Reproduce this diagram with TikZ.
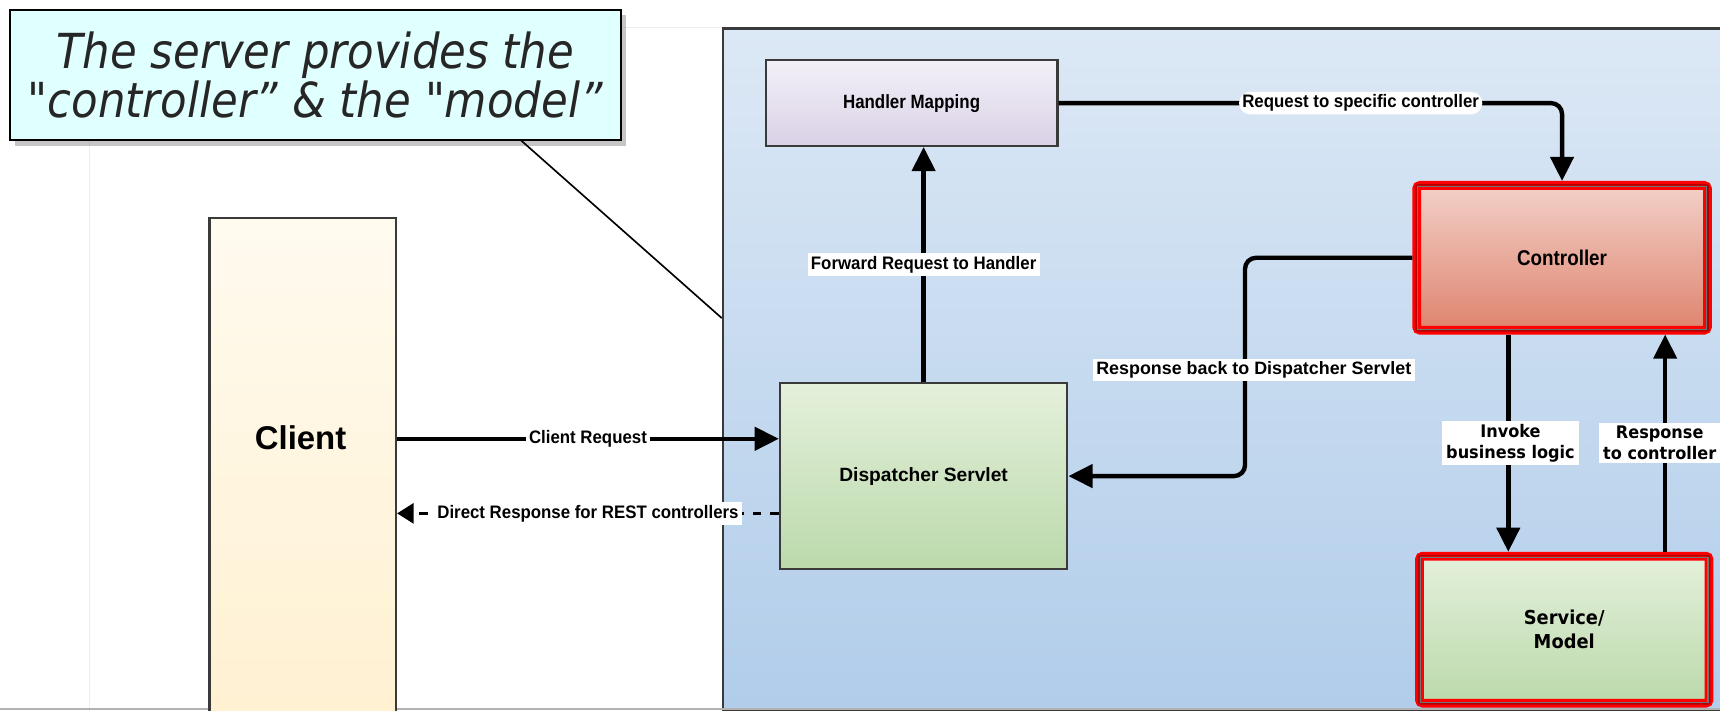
\documentclass[tikz,border=0pt]{standalone}
\usepackage{fontspec}
\setmainfont{Liberation Sans}
\newfontfamily\narrowfont[FakeStretch=0.93]{Liberation Sans}
\newfontfamily\narrowerfont[FakeStretch=0.88]{Liberation Sans}
\newfontfamily\verdfont[FakeStretch=0.93]{DejaVu Sans}
\newfontfamily\callfont[FakeStretch=0.90]{DejaVu Sans}
\usetikzlibrary{arrows.meta,shadows}
\definecolor{srvtop}{HTML}{DCE8F5}
\definecolor{srvbot}{HTML}{B1CDEA}
\definecolor{boxline}{HTML}{3A3A3A}
\definecolor{callfill}{HTML}{E0FFFF}
\definecolor{framered}{HTML}{FF0000}
\definecolor{framedark}{HTML}{B00000}
\definecolor{grtop}{HTML}{E4F0DB}
\definecolor{grbot}{HTML}{BBD9AB}
\definecolor{hmtop}{HTML}{F3F0F7}
\definecolor{hmbot}{HTML}{D9D1E6}
\definecolor{cttop}{HTML}{F3D0C8}
\definecolor{ctbot}{HTML}{DE846E}
\definecolor{cltop}{HTML}{FFFBEF}
\definecolor{clbot}{HTML}{FFF0D0}
\tikzset{
  px/.style={x=1pt,y=-1pt},
  plainbox/.style={draw=boxline, line width=2pt, inner sep=0pt, align=center, font=\bfseries},
  redbox/.style={draw=framered, line width=8pt, rounded corners=3pt, inner sep=0pt, align=center, font=\bfseries},
  conn/.style={line width=4pt, -{Triangle[length=22pt,width=21pt]}},
  dconn/.style={line width=3pt, dash pattern=on 8pt off 8pt, -{Triangle[length=15pt,width=18pt]}},
  lbl/.style={fill=white, inner xsep=3pt, inner ysep=2.5pt, font=\narrowfont\bfseries\fontsize{16.5}{19}\selectfont},
  vlbl/.style={fill=white, inner xsep=4pt, inner ysep=3pt, align=center, font=\verdfont\bfseries\fontsize{15.8}{19}\selectfont},
}
\begin{document}
\begin{tikzpicture}[px]
\useasboundingbox (0,0) rectangle (1568,648);
\fill[white] (0,0) rectangle (1568,648);
% faint page lines
\draw[black!7, line width=1pt] (82,127) -- (82,660);
\draw[black!7, line width=1pt] (565,25) -- (658,25);
% server area
\node[draw=boxline, line width=2pt, top color=srvtop, bottom color=srvbot, minimum width=960pt, minimum height=621pt, inner sep=0pt, anchor=north west] (srv) at (658,25) {};
\draw[black!30, line width=1.5pt] (0,646.5) -- (1568,646.5);
% client
\node[plainbox, top color=cltop, bottom color=clbot, minimum width=170pt, minimum height=470pt, anchor=north west] (cl) at (190,198) {};
\node[font=\bfseries\fontsize{30}{34}\selectfont] (cltxt) at (274,399) {Client};
% handler mapping
\node[plainbox, top color=hmtop, bottom color=hmbot, minimum width=266pt, minimum height=78pt, font=\narrowerfont\bfseries\fontsize{17.5}{20}\selectfont] (hm) at (831,94) {Handler Mapping};
% dispatcher
\node[plainbox, top color=grtop, bottom color=grbot, minimum width=262pt, minimum height=170pt, font=\bfseries\fontsize{17.5}{21}\selectfont] (ds) at (842,434) {Dispatcher Servlet};
% controller
\node[redbox, top color=cttop, bottom color=ctbot, minimum width=265pt, minimum height=132pt, font=\narrowerfont\bfseries\fontsize{19.5}{22}\selectfont] (ctl) at (1424,235) {Controller};
\draw[framedark, line width=1.5pt, rounded corners=1pt] ([shift={(3.5,3.5)}]ctl.north west) rectangle ([shift={(-3.5,-3.5)}]ctl.south east);
\draw[black!55, line width=1pt] ([shift={(5,5)}]ctl.north west) rectangle ([shift={(-5,-5)}]ctl.south east);
% service/model
\node[redbox, top color=grtop, bottom color=grbot, minimum width=264pt, minimum height=134pt, font=\verdfont\bfseries\fontsize{17.5}{22}\selectfont] (svc) at (1426,574) {Service/\\Model};
\draw[framedark, line width=1.5pt, rounded corners=1pt] ([shift={(3.5,3.5)}]svc.north west) rectangle ([shift={(-3.5,-3.5)}]svc.south east);
\draw[black!55, line width=1pt] ([shift={(5,5)}]svc.north west) rectangle ([shift={(-5,-5)}]svc.south east);
% helper coordinates
\coordinate (cr) at (0,400);
\coordinate (dr) at (0,468);
\coordinate (inv) at (1375,0);
\coordinate (rsp) at (1518,0);
\coordinate (rbk) at (1135,337);
% connectors
\draw[conn] (cl.east |- cr) -- node[lbl]{Client Request} (ds.west |- cr);
\draw[dconn] (ds.west |- dr) -- node[lbl]{Direct Response for REST controllers} (cl.east |- dr);
\draw[conn] (ds.north) -- node[lbl]{Forward Request to Handler} (ds.north |- hm.south);
\draw[conn, rounded corners=10pt] (hm.east) -| node[lbl, pos=0.30]{Request to specific controller} (ctl.north);
\draw[conn, rounded corners=10pt] (ctl.west) -| (rbk) |- (ds.east);
\node[lbl, font=\bfseries\fontsize{16.3}{19}\selectfont] (rbklbl) at (1143,337) {Response back to Dispatcher Servlet};
\draw[conn] (inv |- ctl.south) -- node[vlbl, xshift=2pt]{Invoke\\business logic} (inv |- svc.north);
\draw[conn] (rsp |- svc.north) -- node[vlbl, xshift=-5pt]{Response\\to controller} (rsp |- ctl.south);
% callout
\node[draw=black, line width=1.8pt, fill=callfill, minimum width=557pt, minimum height=119pt, anchor=north west, align=center, inner sep=0pt,
  drop shadow={shadow xshift=5pt, shadow yshift=-5pt, opacity=0.45},
  font=\callfont\itshape\fontsize{44}{45}\selectfont, text=black!85] (call) at (8,8) {The server provides the\\"controller” \& the "model”};
\coordinate (ptr) at (srv.west |- 0,290);
\draw[line width=1.5pt] (475,128) -- (ptr);
\end{tikzpicture}
\end{document}
